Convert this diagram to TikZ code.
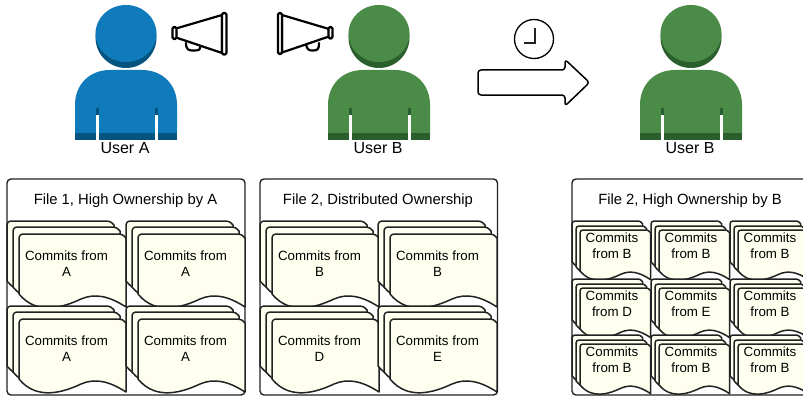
\documentclass[tikz,border=0pt]{standalone}
\usepackage{fontspec}
\setmainfont{Liberation Sans}
\definecolor{ablue}{HTML}{0F7BBB}
\definecolor{ablued}{HTML}{05537F}
\definecolor{bgreen}{HTML}{4B8B48}
\definecolor{bgreend}{HTML}{2A5E2C}
\definecolor{ivory1}{HTML}{FFFFF0}
\definecolor{inkk}{HTML}{222222}
\tikzset{
  sheet/.style={draw=inkk,line width=1.5pt,fill=ivory1,line join=round},
  framebox/.style={draw=inkk,line width=1.4pt,fill=white,rounded corners=4pt},
  horn/.style={draw=black,line width=2.2pt,line join=round,line cap=round,fill=white},
  titletext/.style={font=\fontsize{14.8}{17}\selectfont,text=black},
  usertext/.style={font=\fontsize{16}{18}\selectfont,text=black},
  committext/.style={font=\fontsize{13.33}{16}\selectfont,align=center,text=black,inner sep=0pt},
}
% one curled sheet
\newcommand{\onesheet}[4]{% x, y, xscale, yscale
  \draw[sheet,shift={(#1,#2)},xscale=#3,yscale=#4]
    (0,60) -- (0,5) .. controls (0,1.5) and (1.5,0) .. (5,0) -- (100,0)
    .. controls (103,0) and (104,1) .. (107,4) -- (107,73)
    .. controls (90,62) and (76,59) .. (62,65)
    .. controls (45,73) and (18,82) .. (0,60) -- cycle;
}
\newcommand{\bigpile}[4]{% x, y, name, who
  \onesheet{#1}{#2}{1}{1}
  \onesheet{#1+6}{#2+6}{1}{1}
  \onesheet{#1+12}{#2+13}{1}{1}
  \node[committext] (#3) at (#1+59.5,#2+42.3) {Commits from\\#4};
}
\newcommand{\smallpile}[4]{%
  \onesheet{#1}{#2}{0.66}{0.68}
  \onesheet{#1+4}{#2+5}{0.66}{0.68}
  \onesheet{#1+8}{#2+9}{0.66}{0.68}
  \node[committext] (#3) at (#1+40,#2+24.6) {Commits\\from #4};
}
\newcommand{\person}[5]{% cx, fill, dark, name, label
  \begin{scope}[shift={(#1,0)}]
    \fill[#3] (0,37.5) circle[radius=30.5];
    \fill[#2] (0,33.5) ellipse[x radius=30.5,y radius=28.5];
    \fill[#2] (-51,133) -- (-51,105) .. controls (-51,84) and (-36,70) .. (-16,70)
      -- (16,70) .. controls (36,70) and (51,84) .. (51,105) -- (51,133) -- cycle;
    \fill[#3] (-51,133) rectangle (51,140);
    \fill[#3] (-30,108) rectangle (-27,115);
    \fill[#3] (29,108) rectangle (32,115);
    \fill[white] (-30,115) rectangle (-27,140.5);
    \fill[white] (29,115) rectangle (31.5,140.5);
    \node[usertext] (#4) at (-1,148) {#5};
  \end{scope}
}
\begin{document}
\begin{tikzpicture}[x=1pt,y=-1pt]
\useasboundingbox (0,0) rectangle (803,396);
\clip (0,0) rectangle (803,396);
\fill[white] (0,0) rectangle (803,396);

\person{126}{ablue}{ablued}{usera}{User A}
\person{379}{bgreen}{bgreend}{userb}{User B}
\person{691}{bgreen}{bgreend}{userc}{User B}

% megaphone of user A
\draw[horn] (186,43) .. controls (186,50) and (189,50.5) .. (193,50.5) .. controls (199,50.5) and (200,50) .. (200,47);
\draw[horn] (176,28.5) -- (222,15) -- (222,53) -- (176,37.5) -- cycle;
\draw[horn,rounded corners=1.5pt] (172.5,27) rectangle (176.5,39);
\draw[horn,rounded corners=1.5pt] (222,13) rectangle (226.5,54.5);

% megaphone of user B
\draw[horn] (306,44) .. controls (307,50) and (309,50.5) .. (313,50.5) .. controls (318,50.5) and (319,49) .. (319,43);
\draw[horn] (329,29) -- (282,15) -- (282,52.5) -- (329,36.5) -- cycle;
\draw[horn,rounded corners=1.5pt] (328.5,27) rectangle (332.5,38.5);
\draw[horn,rounded corners=1.5pt] (278,13) rectangle (282,54);

% clock
\draw[draw=black,line width=1.3pt,fill=white] (534,39) circle[radius=19.5];
\draw[draw=inkk,line width=1.8pt] (535,28) -- (535,43) -- (524,43);

% time arrow
\draw[draw=black,line width=1.5pt,fill=white,rounded corners=3pt,line join=round]
  (478,70) -- (565,70) -- (565,59.5) -- (589.5,82.5) -- (565,106) -- (565,95) -- (478,95) -- cycle;

% file frames
\draw[framebox] (7,179) rectangle (245,395);
\draw[framebox] (260,179) rectangle (497.5,395);
\draw[framebox] (572,179) rectangle (815,395);

\node[titletext] (t1) at (125.5,201) {File 1, High Ownership by A};
\node[titletext] (t2) at (378,201) {File 2, Distributed Ownership};
\node[titletext] (t3) at (690,201) {File 2, High Ownership by B};

\bigpile{7}{221}{a1}{A}
\bigpile{126}{221}{a2}{A}
\bigpile{7}{306}{a3}{A}
\bigpile{126}{306}{a4}{A}

\bigpile{260}{221}{b1}{B}
\bigpile{378}{221}{b2}{B}
\bigpile{260}{306}{b3}{D}
\bigpile{378}{306}{b4}{E}

\smallpile{572}{221}{c1}{B}
\smallpile{651}{221}{c2}{B}
\smallpile{730}{221}{c3}{B}
\smallpile{572}{279}{c4}{D}
\smallpile{651}{279}{c5}{E}
\smallpile{730}{279}{c6}{B}
\smallpile{572}{335}{c7}{B}
\smallpile{651}{335}{c8}{B}
\smallpile{730}{335}{c9}{B}
\end{tikzpicture}
\end{document}
